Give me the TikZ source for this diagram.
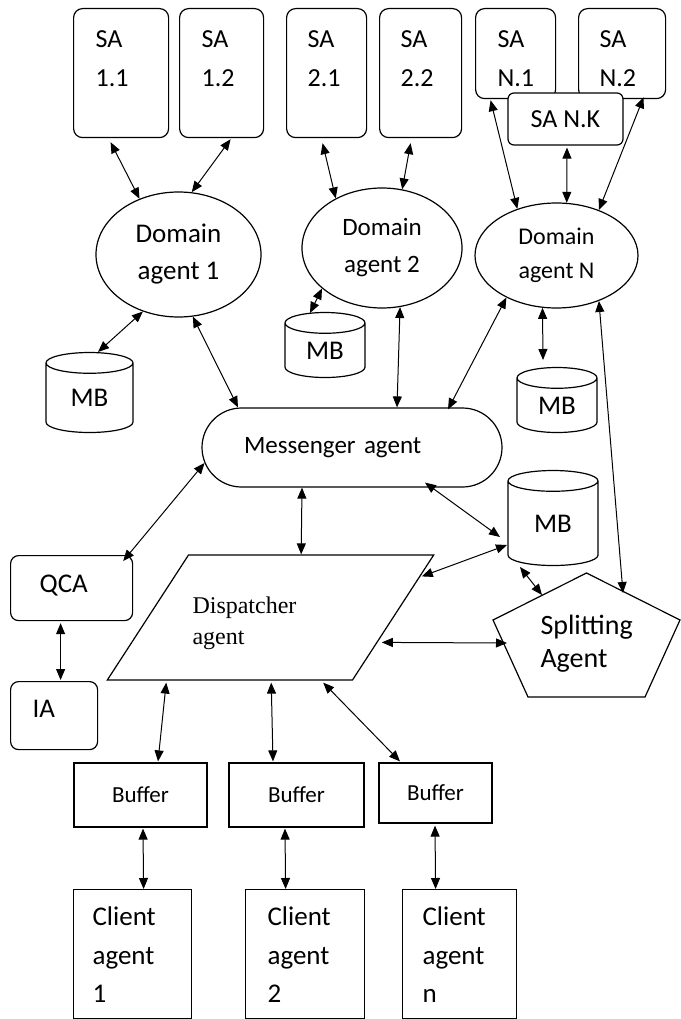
\documentclass[tikz,border=0pt]{standalone}
\usepackage{fontspec}
\setmainfont{Carlito}
\newfontfamily\dispfont{Liberation Serif}
\usetikzlibrary{shapes.geometric,shapes.misc,arrows.meta,calc}

\begin{document}
\begin{tikzpicture}[x=1pt, y=-1pt, line width=1pt, >={Triangle[length=11pt,width=9pt]},
    sabox/.style = {draw, line width=1.2pt, rounded corners=9pt, anchor=north west, inner sep=0pt, align=left, font=\fontsize{26}{39}\selectfont, text height=16pt},
    dom/.style = {draw, ellipse, line width=1.2pt, inner sep=0pt, align=center},
    mb/.style = {draw, cylinder, shape border rotate=90, aspect=0.55, line width=1.2pt, inner sep=0pt, font=\fontsize{27}{30}\selectfont},
    box/.style = {draw, line width=1.2pt, inner sep=0pt},
    buffer/.style = {box, font=\fontsize{23}{26}\selectfont},
    client/.style = {box, anchor=north west, minimum height=129pt, align=left, font=\fontsize{27}{38.5}\selectfont, text height=17pt, text depth=74pt}]
  \useasboundingbox (0,0) rectangle (680,1019);

  % sub agents
  \node[sabox, minimum width=95pt, minimum height=129pt, text width=51pt, text depth=67pt] (sa11) at (73,8) {SA\\1.1};
  \node[sabox, minimum width=84pt, minimum height=129pt, text width=40pt, text depth=67pt] (sa12) at (179,8) {SA\\1.2};
  \node[sabox, minimum width=80pt, minimum height=129pt, text width=38pt, text depth=67pt] (sa21) at (286,8) {SA\\2.1};
  \node[sabox, minimum width=82pt, minimum height=129pt, text width=40pt, text depth=67pt] (sa22) at (379,8) {SA\\2.2};
  \node[sabox, minimum width=80pt, minimum height=90pt, text width=36pt, text depth=28pt] (san1) at (475,8) {SA\\N.1};
  \node[sabox, minimum width=87pt, minimum height=90pt, text width=45pt, text depth=28pt] (san2) at (578,8) {SA\\N.2};
  \node[draw, line width=1.2pt, rounded corners=6pt, fill=white, minimum width=115pt, minimum height=52pt, inner sep=0pt, font=\fontsize{26}{28}\selectfont] (sank) at (565.5,119) {SA N.K};

  % domain agents
  \node[dom, minimum width=165pt, minimum height=125pt, font=\fontsize{27}{37}\selectfont] (da1) at (178.5,254.5) {Domain\\agent 1};
  \node[dom, minimum width=160pt, minimum height=120pt, font=\fontsize{25}{37}\selectfont] (da2) at (382,248) {Domain\\agent 2};
  \node[dom, minimum width=163pt, minimum height=105pt, font=\fontsize{24}{34}\selectfont] (dan) at (556.5,255.5) {Domain\\agent N};

  \node[mb, minimum width=87pt, minimum height=80pt] (mb1) at (89.5,398) {MB};
  \node[mb, minimum width=80pt, minimum height=65pt] (mb2) at (325,350.5) {MB};
  \node[mb, minimum width=80pt, minimum height=65pt] (mb3) at (557,405.5) {MB};
  \node[mb, minimum width=90pt, minimum height=95pt] (mb4) at (553,523.5) {MB};

  \node[draw, rounded rectangle, line width=1.2pt, minimum width=300pt, minimum height=79pt, inner sep=0pt, text width=216pt, align=left, font=\fontsize{25}{28}\selectfont] (msg) at (352,447.5) {Messenger agent};

  \node[box, rounded corners=8pt, anchor=north west, minimum width=122pt, minimum height=65pt, text width=64pt, align=left, font=\fontsize{27}{30}\selectfont, text height=16pt, text depth=7pt] (qca) at (10,555) {QCA};
  \node[box, rounded corners=8pt, anchor=north west, minimum width=87pt, minimum height=68pt, text width=43pt, align=left, font=\fontsize{27}{30}\selectfont, text height=16pt, text depth=12pt] (ia) at (10,681) {IA};

  \node[draw, trapezium, trapezium left angle=57, trapezium right angle=123, line width=1.2pt, inner xsep=4pt, inner ysep=0pt, text width=156pt, text height=58pt, text depth=67pt, align=left, font=\dispfont\fontsize{24}{31}\selectfont] (disp) at (270.5,617.5) {Dispatcher\\agent};

  \node[inner sep=0pt, text width=93pt, align=left, font=\fontsize{28}{33}\selectfont] (sp) at (587,644) {Splitting\\Agent};
  \draw[line width=1.2pt] ($(sp)+(-0.5,-71)$) -- ($(sp)+(93,-24)$) -- ($(sp)+(58,53)$) -- ($(sp)+(-59,53)$) -- ($(sp)+(-94,-24)$) -- cycle;

  % buffers and clients
  \node[buffer, minimum width=133pt, minimum height=64pt] (buf1) at (140.5,795) {Buffer};
  \node[buffer, minimum width=135pt, minimum height=64pt] (buf2) at (296.5,795) {Buffer};
  \node[buffer, minimum width=113pt, minimum height=60pt] (buf3) at (435.5,793) {Buffer};
  \node[client, minimum width=118pt, text width=80pt] (c1) at (73,889) {Client\\agent\\1};
  \node[client, minimum width=119pt, text width=75pt] (c2) at (245,889) {Client\\agent\\2};
  \node[client, minimum width=114pt, text width=74pt] (cn) at (402,889) {Client\\agent\\n};

  % links
  \draw[<->] ($(sa11.south)+(-10.5,4)$) -- (da1.125);
  \draw[<->] ($(sa12.south)+(9,1)$) -- (da1.78);
  \draw[<->] ($(sa21.south)+(-4,5)$) -- (da2.133);
  \draw[<->] ($(sa22.south)+(-10,5)$) -- (da2.71);
  \draw[<->] ($(san1.south)+(-25,1)$) -- (dan.130);
  \draw[<->] ($(sank.south)+(1.5,2)$) -- (dan.79);
  \draw[<->] ($(san2.south)+(21.5,-2)$) -- (dan.47);
  \draw[<->] (da1.238) -- ($(mb1)+(8.5,-46)$);
  \draw[<->] (da1.283) -- ($(msg.north)+(-114,0)$);
  \draw[<->] (da2.214) -- ($(mb2)+(-15,-37.5)$);
  \draw[<->] (da2.287) -- ($(msg.north)+(45,0)$);
  \draw[<->] (dan.220) -- ($(msg.north)+(96,2)$);
  \draw[<->] (dan.255) -- ($(mb3)+(-14,-45.5)$);
  \draw[<->] (dan.313) -- ($(sp)+(36,-51)$);
  \draw[<->] (msg.186) -- ($(qca.north east)+(-10,6)$);
  \draw[<->] ($(msg.south)+(-50,0)$) -- ($(disp.top left corner)+(113,0)$);
  \draw[<->] ($(msg.south)+(73,-5)$) -- ($(mb4)+(-53,13.5)$);
  \draw[<->] ($(mb4)+(-46,21.5)$) -- ($(disp.top right corner)+(-13,22)$);
  \draw[<->] ($(mb4)+(-33,43.5)$) -- ($(sp)+(-45,-49)$);
  \draw[<->] ($(disp.top right corner)+(-53,88)$) -- ($(sp)+(-80,-1)$);
  \draw[<->] ($(qca.south)+(-11,2)$) -- ($(ia.north)+(6.5,-1)$);
  \draw[<->] ($(disp.bottom left corner)+(60,2)$) -- ($(buf1.north)+(17.5,-1)$);
  \draw[<->] ($(disp.bottom left corner)+(165,2)$) -- ($(buf2.north)+(-23.5,-1)$);
  \draw[<->] ($(disp.bottom left corner)+(217,2)$) -- ($(buf3.north)+(-35.5,-1)$);
  \draw[<->] ($(buf1.south)+(2.5,1)$) -- ($(c1.north)+(11,0)$);
  \draw[<->] ($(buf2.south)+(-11.5,1)$) -- ($(c2.north)+(-19.5,0)$);
  \draw[<->] ($(buf3.south)+(-0.5,2)$) -- ($(cn.north)+(-24,0)$);
\end{tikzpicture}
\end{document}
